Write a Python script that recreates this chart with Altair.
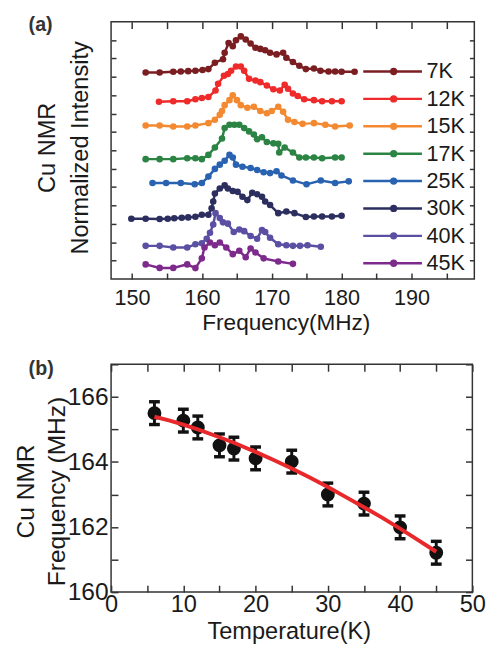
import altair as alt
import pandas as pd

FONT = "Liberation Sans"
TEXT = "#1a1a1a"
TICK = "#333333"

# ---------------- panel (a): spectra ----------------
labels = ["7K", "12K", "15K", "17K", "25K", "30K", "40K", "45K"]
colors = ["#7a1e22", "#ee2a2b", "#f38a32", "#2b8443", "#2962b0", "#2c2e5f", "#5a4fa3", "#7d2a8c"]

freq_7K = [151.95, 153.95, 155.90, 156.98, 158.04, 159.07, 160.09, 160.93, 161.86, 163.02, 163.26,
           163.82, 164.42, 164.88, 165.57, 166.27, 166.97, 167.67, 168.36, 169.06, 169.76, 170.69,
           171.63, 172.09, 173.03, 173.95, 174.88, 176.04, 176.97, 178.13, 179.07, 180.00, 181.86]
int_7K = [11.24, 11.24, 11.28, 11.29, 11.31, 11.33, 11.37, 11.42, 11.77, 11.96, 12.31,
          12.84, 12.67, 12.99, 13.20, 13.03, 12.81, 12.58, 12.52, 12.45, 12.31, 12.22,
          12.31, 12.04, 11.81, 11.60, 11.42, 11.45, 11.33, 11.29, 11.29, 11.28, 11.28]

freq_12K = [153.85, 155.90, 157.90, 159.07, 159.99, 160.93, 161.95, 162.32, 163.16, 163.72,
            164.18, 164.88, 165.57, 166.05, 166.75, 167.67, 168.36, 169.30, 170.23, 171.16,
            171.85, 172.33, 173.03, 173.72, 174.64, 176.04, 177.21, 178.61, 180.00]
int_12K = [9.64, 9.67, 9.67, 9.78, 9.85, 9.90, 10.26, 10.62, 11.06, 11.15,
           11.33, 11.56, 11.56, 11.33, 10.89, 10.80, 10.71, 10.53, 10.32, 10.26,
           10.57, 10.35, 10.09, 9.96, 9.78, 9.73, 9.67, 9.67, 9.67]

freq_15K = [151.95, 153.95, 155.90, 157.90, 159.07, 160.93, 161.86, 162.56, 162.88, 163.26,
            163.95, 164.42, 165.02, 165.57, 166.51, 167.44, 168.36, 169.30, 170.00, 170.93,
            171.63, 172.33, 173.25, 174.42, 176.04, 177.67, 179.07, 181.16]
int_15K = [8.35, 8.35, 8.30, 8.30, 8.35, 8.48, 8.66, 8.93, 9.14, 9.46,
           9.73, 9.99, 9.73, 9.46, 9.32, 9.37, 9.14, 9.02, 9.14, 9.37,
           9.10, 8.66, 8.54, 8.44, 8.48, 8.39, 8.30, 8.35]

freq_17K = [151.95, 153.95, 155.90, 157.90, 159.07, 159.99, 160.93, 161.86, 162.88, 163.26,
            163.95, 164.65, 165.35, 166.05, 166.75, 167.44, 167.90, 168.60, 169.30, 170.23,
            170.93, 171.07, 171.85, 173.03, 173.95, 174.88, 176.04, 177.21, 179.07, 180.00]
int_17K = [6.52, 6.52, 6.52, 6.57, 6.57, 6.52, 6.75, 7.15, 7.64, 8.21,
           8.39, 8.39, 8.39, 8.21, 8.03, 7.86, 7.60, 7.71, 7.45, 7.38,
           7.36, 6.88, 7.15, 6.88, 6.61, 6.61, 6.61, 6.57, 6.61, 6.61]

freq_25K = [152.93, 154.88, 156.98, 158.97, 159.99, 160.93, 161.86, 162.56, 163.26, 163.95,
            164.42, 164.88, 165.81, 166.97, 167.90, 168.84, 169.76, 170.69, 171.39, 173.03,
            174.98, 177.02, 179.07, 181.02]
int_25K = [5.22, 5.22, 5.22, 5.15, 5.22, 5.57, 5.99, 6.22, 6.43, 6.75,
           6.61, 6.22, 6.11, 6.04, 5.93, 5.81, 5.76, 5.86, 5.63, 5.36,
           5.15, 5.36, 5.22, 5.31]

freq_30K = [149.90, 151.95, 153.95, 155.11, 156.04, 157.12, 158.04, 159.07, 159.99, 160.93,
            161.39, 161.62, 161.86, 162.56, 163.26, 163.72, 164.42, 165.11, 165.81, 166.51,
            167.21, 167.90, 168.60, 169.06, 169.76, 170.93, 172.09, 173.25, 174.88, 176.04,
            177.21, 178.61, 180.00]
int_30K = [3.28, 3.28, 3.26, 3.28, 3.30, 3.33, 3.35, 3.38, 3.49, 3.49,
           3.85, 4.21, 4.65, 4.92, 5.09, 4.92, 4.79, 4.74, 4.47, 4.29,
           4.69, 4.61, 4.47, 4.21, 4.02, 3.58, 3.67, 3.58, 3.37, 3.40,
           3.40, 3.40, 3.44]

freq_40K = [151.95, 153.95, 155.90, 157.90, 159.07, 159.99, 160.69, 161.16, 161.62, 161.95,
            162.56, 163.02, 163.72, 164.56, 165.35, 166.05, 166.97, 167.90, 168.60, 169.06,
            169.76, 170.93, 172.09, 173.03, 174.04, 175.12, 177.02]
int_40K = [1.80, 1.80, 1.71, 1.71, 1.89, 1.94, 2.19, 2.51, 2.96, 3.58,
           3.31, 3.08, 3.01, 2.55, 2.69, 2.60, 2.34, 2.19, 2.66, 2.55,
           2.24, 1.89, 1.83, 1.80, 1.80, 1.83, 1.75]

freq_45K = [151.95, 153.95, 155.90, 157.90, 159.07, 159.99, 160.37, 161.16, 161.86, 162.56,
            163.49, 164.42, 165.35, 166.27, 166.97, 167.67, 168.84, 170.93, 173.03]
int_45K = [0.79, 0.60, 0.60, 0.79, 0.59, 1.12, 1.71, 1.98, 1.83, 1.98,
           1.71, 1.35, 1.53, 1.18, 1.66, 1.44, 1.12, 0.95, 0.82]

spectra_freq = [freq_7K, freq_12K, freq_15K, freq_17K, freq_25K, freq_30K, freq_40K, freq_45K]
spectra_int = [int_7K, int_12K, int_15K, int_17K, int_25K, int_30K, int_40K, int_45K]

x_labels_a = [150, 160, 170, 180, 190]
x_ticks_a = [150, 155, 160, 165, 170, 175, 180, 185, 190, 195]
y_ticks_a = [1, 2, 3, 4, 5, 6, 7, 8, 9, 10, 11, 12, 13]

# ---------------- panel (b): peak frequency vs T ----------------
temp_K = [6, 10, 12, 15, 17, 20, 25, 30, 35, 40, 45]
peak_MHz = [165.50, 165.27, 165.06, 164.51, 164.41, 164.11, 164.01, 163.00, 162.72, 161.99, 161.21]
err_MHz = [0.35, 0.35, 0.35, 0.35, 0.35, 0.35, 0.35, 0.35, 0.35, 0.35, 0.35]

fit_T = [6, 8, 10, 12, 15, 17, 20, 22.5, 25, 27.5, 30, 32.5, 35, 37.5, 40, 42.5, 45]
fit_MHz = [165.39, 165.28, 165.15, 165.00, 164.76, 164.59, 164.31, 164.06, 163.80, 163.52,
           163.23, 162.92, 162.61, 162.29, 161.95, 161.60, 161.24]

x_labels_b = [0, 10, 20, 30, 40, 50]
x_ticks_b = [0, 5, 10, 15, 20, 25, 30, 35, 40, 45, 50]
y_labels_b = [160, 162, 164, 166]
y_ticks_b = [160, 161, 162, 163, 164, 165, 166, 167]

panel_tags = ["(a)", "(b)"]

# ---------------- layout constants ----------------
W_A, H_A = 370, 262
W_B, H_B = 368, 232

# legend placement inside panel (a), in data units of that panel
LEG_X_LINE0, LEG_X_LINE1, LEG_X_DOT, LEG_X_TEXT = 183.1, 191.5, 187.45, 192.15
LEG_Y_TOP, LEG_Y_STEP = 11.29, 1.491

# ---------------- tables ----------------
rows = []
for lab, fs, vs in zip(labels, spectra_freq, spectra_int):
    for f, v in zip(fs, vs):
        rows.append({"series": lab, "freq": f, "intensity": v})
df_a = pd.DataFrame(rows)

df_leg = pd.DataFrame({
    "series": labels,
    "x0": [LEG_X_LINE0] * len(labels),
    "x1": [LEG_X_LINE1] * len(labels),
    "xd": [LEG_X_DOT] * len(labels),
    "xt": [LEG_X_TEXT] * len(labels),
    "y": [LEG_Y_TOP - LEG_Y_STEP * i for i in range(len(labels))],
})

df_b = pd.DataFrame({
    "T": temp_K,
    "freq": peak_MHz,
    "lo": [p - e for p, e in zip(peak_MHz, err_MHz)],
    "hi": [p + e for p, e in zip(peak_MHz, err_MHz)],
})
df_fit = pd.DataFrame({"T": fit_T, "fit": fit_MHz})

base_axis = dict(domain=False, grid=False, minExtent=0, tickColor=TICK, tickWidth=1.5,
                 labelFont=FONT, labelColor=TEXT, titleFont=FONT, titleColor=TEXT,
                 titleFontWeight="normal", labelFlush=False, labelOverlap=False)


def tick_axis(orient, values, size, offset):
    # tick-only axis, moved onto the opposite edge so that its ticks point inward
    return alt.Axis(orient=orient, values=values, labels=False, ticks=True, tickSize=size,
                    offset=offset, title=None, **base_axis)


def tag_layer(tag, dy):
    return alt.Chart(pd.DataFrame({"tag": [tag]})).mark_text(
        align="left", baseline="alphabetic", font=FONT, fontSize=20, fontWeight="bold",
        color="#333333").encode(x=alt.value(-84), y=alt.value(dy), text="tag:N")


# ---------------- panel (a) ----------------
xs_a = alt.Scale(domain=[147, 199], nice=False, zero=False)
ys_a = alt.Scale(domain=[0, 14], nice=False, zero=False)
stroke_scale = alt.Scale(domain=labels, range=colors)

ax_bottom_a = alt.Axis(orient="bottom", values=x_labels_a, ticks=False, labelPadding=9,
                       labelFontSize=22, labelAlign="center", labelBaseline="top",
                       title="Frequency(MHz)", titleFontSize=23, titleX=178, titleY=52,
                       titleBaseline="alphabetic", titleAlign="center", **base_axis)
ax_left_a = alt.Axis(orient="left", values=y_ticks_a, labels=False, ticks=False,
                     title=["Cu NMR", "Normalized Intensity"], titleFontSize=24, titleAngle=270,
                     titleX=-53, titleY=128, titleBaseline="bottom", titleAlign="center",
                     titleLineHeight=34, **base_axis)

lines_a = alt.Chart(df_a).mark_line(strokeWidth=2.5).encode(
    x=alt.X("freq:Q", scale=xs_a, axis=ax_bottom_a),
    y=alt.Y("intensity:Q", scale=ys_a, axis=ax_left_a),
    stroke=alt.Stroke("series:N", scale=stroke_scale, legend=None),
)
points_a = alt.Chart(df_a).mark_circle(size=45, opacity=1).encode(
    x=alt.X("freq:Q", scale=xs_a, axis=tick_axis("top", x_ticks_a, 6, -H_A)),
    y=alt.Y("intensity:Q", scale=ys_a, axis=tick_axis("right", y_ticks_a, 5, -W_A)),
    color=alt.Color("series:N", scale=stroke_scale, legend=None),
)
leg_lines = alt.Chart(df_leg).mark_rule(strokeWidth=2.5).encode(
    x=alt.X("x0:Q", scale=xs_a, axis=tick_axis("bottom", x_ticks_a, 7, -H_A)),
    x2="x1:Q",
    y=alt.Y("y:Q", scale=ys_a, axis=tick_axis("left", y_ticks_a, 5, -W_A)),
    stroke=alt.Stroke("series:N", scale=stroke_scale, legend=None),
)
leg_dots = alt.Chart(df_leg).mark_circle(size=55, opacity=1).encode(
    x=alt.X("xd:Q", scale=xs_a, axis=None),
    y=alt.Y("y:Q", scale=ys_a, axis=None),
    color=alt.Color("series:N", scale=stroke_scale, legend=None),
)
leg_text = alt.Chart(df_leg).mark_text(align="left", baseline="middle", font=FONT,
                                       fontSize=22, color=TEXT).encode(
    x=alt.X("xt:Q", scale=xs_a, axis=None),
    y=alt.Y("y:Q", scale=ys_a, axis=None),
    text="series:N",
)

panel_a = alt.layer(lines_a, points_a, leg_lines, leg_dots, leg_text,
                    tag_layer(panel_tags[0], 9)).resolve_axis(
    x="independent", y="independent").properties(width=W_A, height=H_A)

# ---------------- panel (b) ----------------
xs_b = alt.Scale(domain=[0, 50], nice=False, zero=False)
ys_b = alt.Scale(domain=[160, 167], nice=False, zero=False)

ax_bottom_b = alt.Axis(orient="bottom", values=x_labels_b, ticks=False, labelPadding=1,
                       labelFontSize=24, labelAlign="center", labelBaseline="top",
                       title="Temperature(K)", titleFontSize=24, titleX=181, titleY=47,
                       titleBaseline="alphabetic", titleAlign="center", **base_axis)
ax_left_b = alt.Axis(orient="left", values=y_labels_b, ticks=False, labelPadding=3,
                     labelFontSize=25, labelAlign="right", labelBaseline="middle",
                     title=["Cu NMR", "Frequency (MHz)"], titleFontSize=25, titleAngle=270,
                     titleX=-74, titleY=129, titleBaseline="bottom", titleAlign="center",
                     titleLineHeight=32, **base_axis)

bars_b = alt.Chart(df_b).mark_rule(strokeWidth=3, color="#111111", opacity=1).encode(
    x=alt.X("T:Q", scale=xs_b, axis=ax_bottom_b),
    y=alt.Y("lo:Q", scale=ys_b, axis=ax_left_b),
    y2="hi:Q",
)
cap_lo = alt.Chart(df_b).mark_tick(orient="horizontal", size=11, thickness=3.5,
                                   color="#111111", opacity=1).encode(
    x=alt.X("T:Q", scale=xs_b, axis=tick_axis("top", x_ticks_b, 7, -H_B)),
    y=alt.Y("lo:Q", scale=ys_b, axis=tick_axis("right", y_ticks_b, 7, -W_B)),
)
cap_hi = alt.Chart(df_b).mark_tick(orient="horizontal", size=11, thickness=3.5,
                                   color="#111111", opacity=1).encode(
    x=alt.X("T:Q", scale=xs_b, axis=tick_axis("bottom", x_ticks_b, 7, -H_B)),
    y=alt.Y("hi:Q", scale=ys_b, axis=tick_axis("left", y_ticks_b, 7, -W_B)),
)
dots_b = alt.Chart(df_b).mark_circle(size=200, opacity=1, color="#111111").encode(
    x=alt.X("T:Q", scale=xs_b, axis=None),
    y=alt.Y("freq:Q", scale=ys_b, axis=None),
)
fit_b = alt.Chart(df_fit).mark_line(strokeWidth=4, color="#e8282b").encode(
    x=alt.X("T:Q", scale=xs_b, axis=None),
    y=alt.Y("fit:Q", scale=ys_b, axis=None),
)

panel_b = alt.layer(bars_b, cap_lo, cap_hi, dots_b, fit_b,
                    tag_layer(panel_tags[1], 11)).resolve_axis(
    x="independent", y="independent").properties(width=W_B, height=H_B)

chart = alt.vconcat(panel_a, panel_b, spacing=87, bounds="flush").properties(
    padding={"left": 5, "top": 0, "right": 5, "bottom": 0}
).configure_view(stroke="#333333", strokeWidth=1.5)

chart.save("out.html", embed_options={"renderer": "svg", "actions": False})
